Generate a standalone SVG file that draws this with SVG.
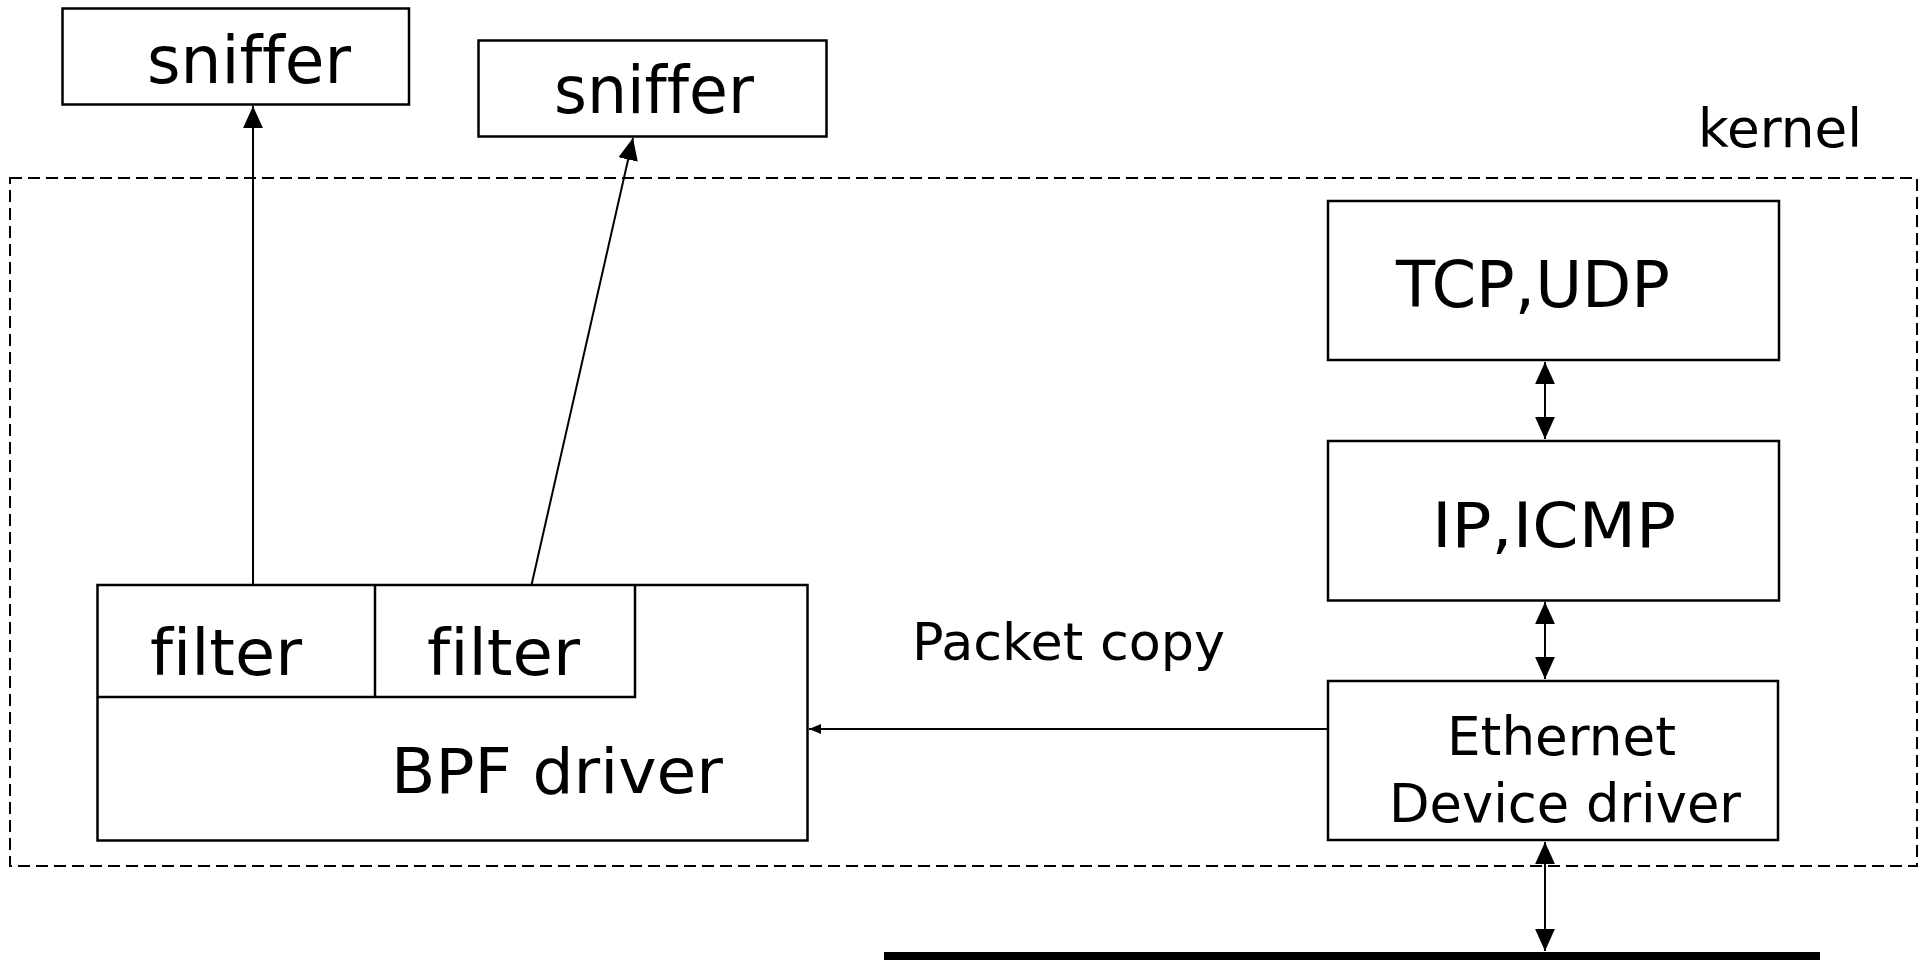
<svg xmlns="http://www.w3.org/2000/svg" width="1925" height="960" viewBox="0 0 1925 960">
<style>
.box{fill:#fff;stroke:#000;stroke-width:2.5}
.ln{fill:none;stroke:#000;stroke-width:2.5}
.cn{fill:none;stroke:#000;stroke-width:2}
.t{font-family:"DejaVu Sans",Verdana,sans-serif;fill:#000;font-variant-ligatures:none;font-feature-settings:"liga" 0,"clig" 0}
.kern{fill:none;stroke:#000;stroke-width:2;stroke-dasharray:12 6}
</style>
<defs>
<marker id="ah" markerUnits="userSpaceOnUse" markerWidth="22" markerHeight="20" viewBox="0 0 20 18" refX="20" refY="9" orient="auto-start-reverse">
<path d="M0,0 L20,9 L0,18 Z" fill="#000"/>
</marker>
<marker id="ahs" markerUnits="userSpaceOnUse" markerWidth="12" markerHeight="10" viewBox="0 0 12 10" refX="12" refY="5" orient="auto">
<path d="M0,0 L12,5 L0,10 Z" fill="#000"/>
</marker>
</defs>
<rect width="1925" height="960" fill="#fff"/>

<g id="kernel">
<rect class="kern" x="10" y="178" width="1907" height="688"/>
<text class="t" x="1698" y="147" font-size="53" textLength="164" lengthAdjust="spacingAndGlyphs">kernel</text>
</g>

<g id="sniffer1">
<rect class="box" x="62.5" y="8.5" width="346.5" height="96"/>
<text class="t" x="147" y="83" font-size="66" textLength="204" lengthAdjust="spacingAndGlyphs">sniffer</text>
</g>

<g id="sniffer2">
<rect class="box" x="478.5" y="40.5" width="348" height="96"/>
<text class="t" x="554" y="113" font-size="66" textLength="200" lengthAdjust="spacingAndGlyphs">sniffer</text>
</g>

<g id="tcpudp">
<rect class="box" x="1328" y="201" width="451" height="159"/>
<text class="t" x="1396" y="307" font-size="64" textLength="274" lengthAdjust="spacingAndGlyphs">TCP,UDP</text>
</g>

<g id="ipicmp">
<rect class="box" x="1328" y="441" width="451" height="159.5"/>
<text class="t" x="1432" y="547" font-size="63" textLength="244" lengthAdjust="spacingAndGlyphs">IP,ICMP</text>
</g>

<g id="ethernet">
<rect class="box" x="1328" y="681" width="450" height="159"/>
<text class="t" x="1447" y="755" font-size="53" textLength="229" lengthAdjust="spacingAndGlyphs">Ethernet</text>
<text class="t" x="1389" y="822" font-size="53" textLength="352" lengthAdjust="spacingAndGlyphs">Device driver</text>
</g>

<g id="bpf">
<rect class="box" x="97.5" y="585" width="710" height="255.5"/>
<polyline class="ln" points="97.5,697 635,697 635,585"/>
<line class="ln" x1="375" y1="585" x2="375" y2="697"/>
<text class="t" x="150" y="675" font-size="64" textLength="152" lengthAdjust="spacingAndGlyphs">filter</text>
<text class="t" x="427" y="675" font-size="64" textLength="153" lengthAdjust="spacingAndGlyphs">filter</text>
<text class="t" x="391" y="793" font-size="62" textLength="332" lengthAdjust="spacingAndGlyphs">BPF driver</text>
</g>

<g id="packet-copy-label">
<text class="t" x="912" y="660" font-size="52" textLength="313" lengthAdjust="spacingAndGlyphs">Packet copy</text>
</g>

<g id="network">
<rect x="884" y="952" width="936" height="8" fill="#000"/>
</g>

<g id="connectors">
<line class="cn" x1="253" y1="585" x2="253" y2="106" marker-end="url(#ah)"/>
<line class="cn" x1="531.5" y1="585" x2="633" y2="138" marker-end="url(#ah)"/>
<line class="cn" x1="1545" y1="362" x2="1545" y2="439" marker-start="url(#ah)" marker-end="url(#ah)"/>
<line class="cn" x1="1545" y1="602" x2="1545" y2="679" marker-start="url(#ah)" marker-end="url(#ah)"/>
<line class="cn" x1="1545" y1="842" x2="1545" y2="951" marker-start="url(#ah)" marker-end="url(#ah)"/>
<line class="cn" x1="1327" y1="729" x2="809" y2="729" marker-end="url(#ahs)"/>
</g>
</svg>
